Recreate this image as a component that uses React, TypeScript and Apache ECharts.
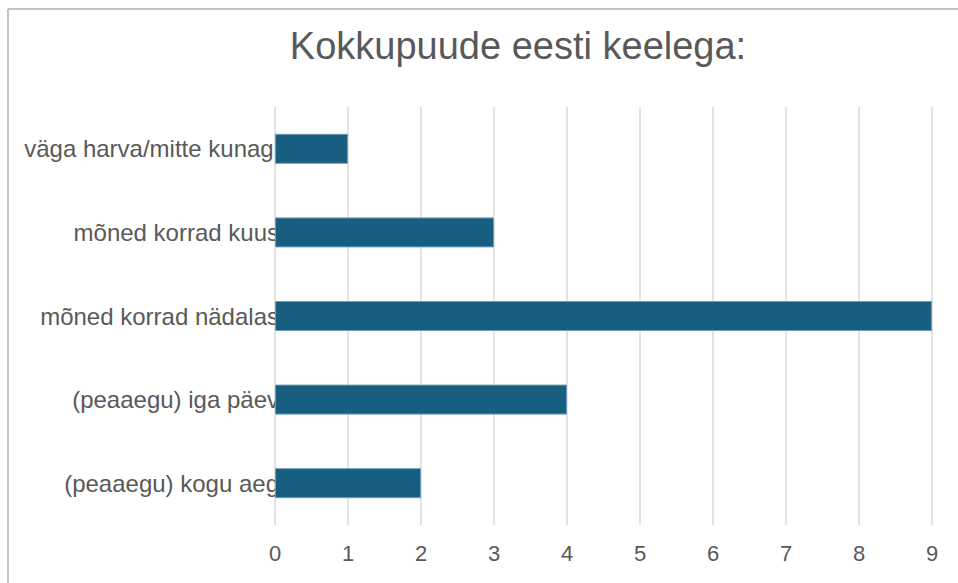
import React, { useEffect, useRef } from "react";
import * as echarts from "echarts";

const titleText = "Kokkupuude eesti keelega:";
const categories = [
  "väga harva/mitte kunagi",
  "mõned korrad kuus",
  "mõned korrad nädalas",
  "(peaaegu) iga päev",
  "(peaaegu) kogu aeg",
];
const values = [1, 3, 9, 4, 2];
const axisMax = 9;

export default function App() {
  const ref = useRef<HTMLDivElement>(null);
  useEffect(() => {
    if (!ref.current) return;
    const chart = echarts.init(ref.current, undefined, { renderer: "svg" });
    const font = "'Liberation Sans', Arial, Helvetica, sans-serif";
    chart.setOption({
      animation: false,
      backgroundColor: "#ffffff",
      textStyle: { fontFamily: font },
      graphic: [
        {
          type: "line",
          shape: { x1: 8, y1: 9, x2: 958, y2: 9 },
          style: { stroke: "#c4c4c4", lineWidth: 2 },
        },
        {
          type: "line",
          shape: { x1: 8, y1: 9, x2: 8, y2: 583 },
          style: { stroke: "#c4c4c4", lineWidth: 2 },
        },
        {
          type: "text",
          x: 518,
          y: 46,
          style: {
            text: titleText,
            fontSize: 38,
            fontFamily: font,
            fill: "#595959",
            textAlign: "center",
            textVerticalAlign: "middle",
          },
        },
      ],
      grid: { left: 275, right: 26, top: 107, bottom: 58, containLabel: false },
      xAxis: {
        type: "value",
        min: 0,
        max: axisMax,
        interval: 1,
        axisLine: { show: false },
        axisTick: { show: false },
        axisLabel: { fontSize: 22, color: "#595959", margin: 17, fontFamily: font },
        splitLine: { show: true, lineStyle: { color: "#dadada", width: 1.5 } },
      },
      yAxis: {
        type: "category",
        data: categories,
        inverse: true,
        axisLine: { show: false },
        axisTick: { show: false },
        axisLabel: { fontSize: 24, color: "#595959", margin: -4, fontFamily: font },
      },
      series: [
        {
          type: "bar",
          data: values,
          barWidth: 30,
          itemStyle: { color: "#175e80", borderColor: "#6c9db5", borderWidth: 1 },
          z: 5,
        },
      ],
    });
    return () => chart.dispose();
  }, []);
  return (
    <div
      ref={ref}
      style={{ position: "fixed", left: 0, top: 0, width: 958, height: 583 }}
    />
  );
}
